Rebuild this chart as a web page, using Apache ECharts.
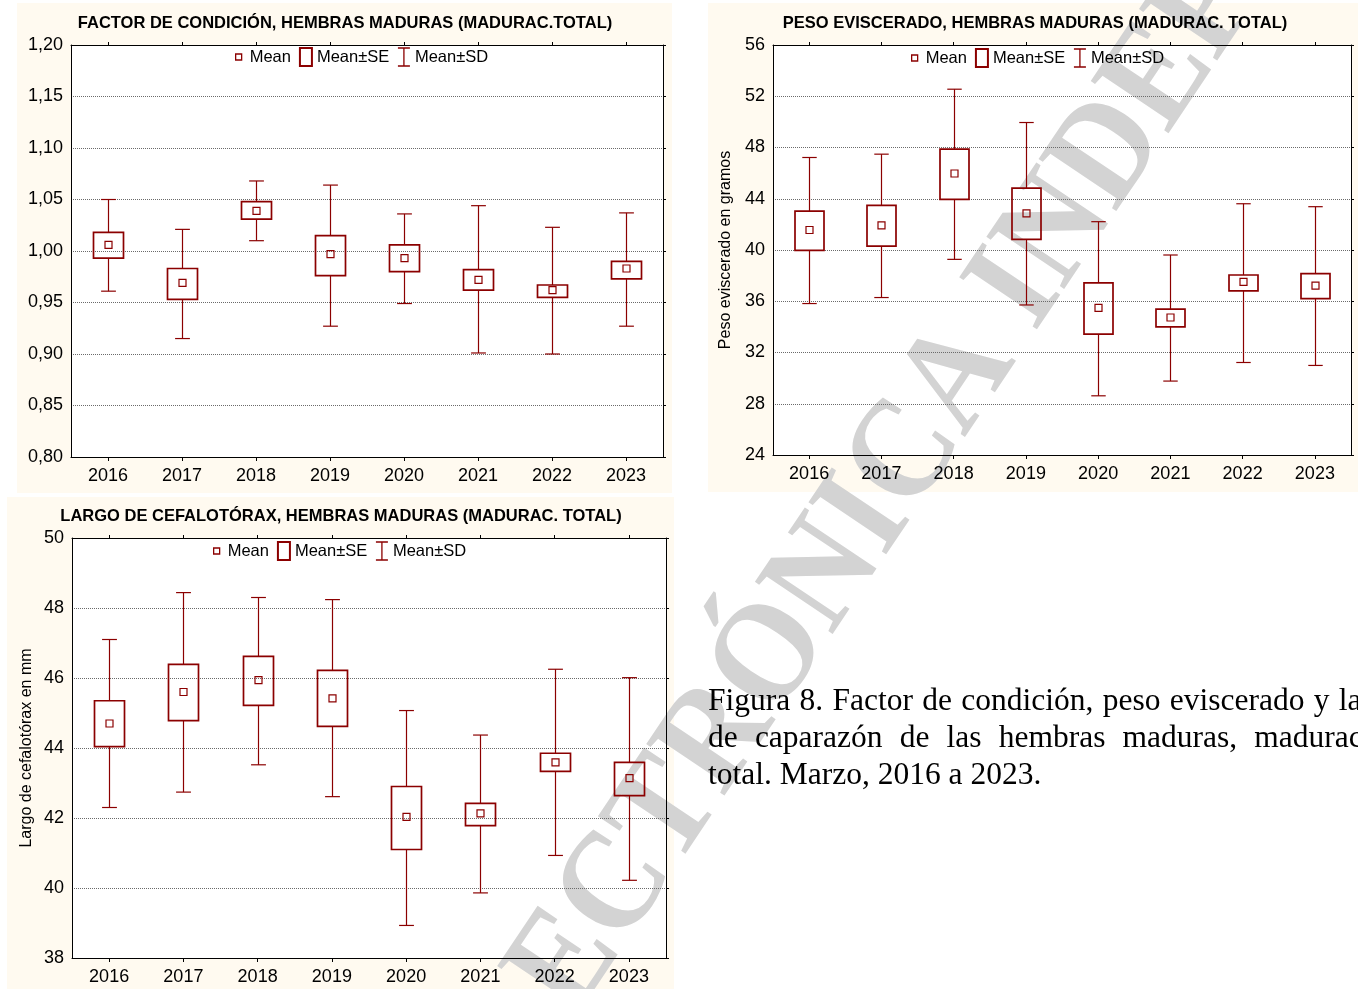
<!DOCTYPE html>
<html>
<head>
<meta charset="utf-8">
<script src="https://cdn.jsdelivr.net/npm/echarts@6/dist/echarts.min.js"></script>
<style>
html,body{margin:0;padding:0;width:1358px;height:989px;overflow:hidden;background:#fff;}
#chart{position:absolute;left:0;top:0;width:1358px;height:989px;}
#cap{position:absolute;left:708px;top:681px;width:650px;height:120px;overflow:hidden;}
#capInner{width:695px;font-family:"Liberation Serif","Times New Roman",serif;font-size:31.5px;line-height:37px;text-align:justify;color:#000;}
</style>
</head>
<body>
<div id="chart"></div>
<div id="cap"><div id="capInner"></div></div>
<script>
// ---------- DATA ----------
const years = ['2016', '2017', '2018', '2019', '2020', '2021', '2022', '2023'];

const titles = [
  'FACTOR DE CONDICIÓN, HEMBRAS MADURAS (MADURAC.TOTAL)',
  'PESO EVISCERADO, HEMBRAS MADURAS (MADURAC. TOTAL)',
  'LARGO DE CEFALOTÓRAX, HEMBRAS MADURAS (MADURAC. TOTAL)'
];
const yNames = ['', 'Peso eviscerado en gramos', 'Largo de cefalotórax en mm'];
const legendNames = ['Mean', 'Mean±SE', 'Mean±SD'];

// Factor de condición
const kMean   = [1.006, 0.969, 1.039, 0.997, 0.993, 0.972, 0.962, 0.983];
const kSeLow  = [0.993, 0.953, 1.031, 0.976, 0.980, 0.962, 0.955, 0.973];
const kSeHigh = [1.018, 0.983, 1.048, 1.015, 1.006, 0.982, 0.967, 0.990];
const kSdLow  = [0.961, 0.915, 1.010, 0.927, 0.949, 0.901, 0.900, 0.927];
const kSdHigh = [1.050, 1.021, 1.068, 1.064, 1.036, 1.044, 1.023, 1.037];

// Peso eviscerado (g)
const pMean   = [41.56, 41.92, 45.97, 42.86, 35.48, 34.73, 37.51, 37.22];
const pSeLow  = [39.97, 40.31, 43.95, 40.83, 33.43, 34.00, 36.81, 36.21];
const pSeHigh = [43.04, 43.48, 47.87, 44.83, 37.43, 35.38, 38.05, 38.16];
const pSdLow  = [35.82, 36.29, 39.27, 35.71, 28.62, 29.77, 31.22, 30.99];
const pSdHigh = [47.22, 47.48, 52.55, 49.95, 42.21, 39.61, 43.61, 43.38];

// Largo de cefalotórax (mm)
const lMean   = [44.70, 45.60, 45.94, 45.42, 42.03, 42.13, 43.59, 43.14];
const lSeLow  = [44.04, 44.78, 45.22, 44.62, 41.10, 41.78, 43.33, 42.64];
const lSeHigh = [45.35, 46.39, 46.62, 46.22, 42.90, 42.42, 43.85, 43.59];
const lSdLow  = [42.30, 42.74, 43.52, 42.61, 38.93, 39.86, 40.93, 40.22];
const lSdHigh = [47.10, 48.44, 48.30, 48.24, 45.07, 44.37, 46.25, 46.01];

// y-axis scales
const yMin = [0.80, 24, 38];
const yMax = [1.20, 56, 50];
const yStep = [0.05, 4, 2];

const captionText = 'Figura 8. Factor de condición, peso eviscerado y largo de caparazón de las hembras maduras, maduración total. Marzo, 2016 a 2023.';
const watermarkText = 'ELECTRÓNICA INDEPENDIENTE';

// ---------- STYLE / LAYOUT ----------
const C = '#8b0000';
const F = '"Liberation Sans", Arial, sans-serif';
const grids = [
  {left: 71, top: 45, width: 592, height: 412},
  {left: 773, top: 45, width: 578, height: 410},
  {left: 72, top: 538, width: 594, height: 420}
];
const titlePos = [[345, 15], [1035, 14.5], [341, 507.5]];
const legendPos = [[232, 47], [908, 48], [210, 541]];
const nameGaps = [0, 39, 37];

const sets = [
  [kMean, kSeLow, kSeHigh, kSdLow, kSdHigh],
  [pMean, pSeLow, pSeHigh, pSdLow, pSdHigh],
  [lMean, lSeLow, lSeHigh, lSdLow, lSdHigh]
];

document.getElementById('capInner').textContent = captionText;

function renderWhisker(params, api) {
  const i = api.value(0);
  const band = api.size([1, 0])[0];
  const cap = band * 0.2;
  const pLo = api.coord([i, api.value(1)]);
  const pSeLo = api.coord([i, api.value(2)]);
  const pSeHi = api.coord([i, api.value(3)]);
  const pHi = api.coord([i, api.value(4)]);
  const x = Math.round(pLo[0]) + 0.5;
  const st = {stroke: C, lineWidth: 1.2};
  return {type: 'group', children: [
    {type: 'line', shape: {x1: x, y1: pLo[1], x2: x, y2: pSeLo[1]}, style: st},
    {type: 'line', shape: {x1: x, y1: pSeHi[1], x2: x, y2: pHi[1]}, style: st},
    {type: 'line', shape: {x1: x - cap / 2, y1: pLo[1], x2: x + cap / 2, y2: pLo[1]}, style: st},
    {type: 'line', shape: {x1: x - cap / 2, y1: pHi[1], x2: x + cap / 2, y2: pHi[1]}, style: st}
  ]};
}
function renderBox(params, api) {
  const i = api.value(0);
  const band = api.size([1, 0])[0];
  const w = Math.round(band * 0.4);
  const lo = api.coord([i, api.value(1)]);
  const hi = api.coord([i, api.value(2)]);
  const x = Math.round(lo[0]) + 0.5;
  return {type: 'rect', shape: {x: x - w / 2, y: hi[1], width: w, height: lo[1] - hi[1]},
    style: {fill: 'none', stroke: C, lineWidth: 1.7}};
}
function renderMean(params, api) {
  const i = api.value(0);
  const p = api.coord([i, api.value(1)]);
  const s = 7;
  const x = Math.round(p[0]) + 0.5;
  return {type: 'rect', shape: {x: x - s / 2, y: p[1] - s / 2, width: s, height: s},
    style: {fill: 'none', stroke: C, lineWidth: 1.2}};
}

function fmt(k) {
  return function (v) {
    if (k === 0) return v.toFixed(2).replace('.', ',');
    return String(Math.round(v));
  };
}

const option = {
  animation: false,
  backgroundColor: '#ffffff',
  title: titles.map((t, k) => ({
    text: t, left: titlePos[k][0], top: titlePos[k][1], textAlign: 'center', padding: 0,
    textStyle: {fontSize: 16.5, fontWeight: 'bold', fontFamily: F, color: '#000'}
  })),
  legend: [0, 1, 2].map(k => ({
    left: legendPos[k][0], top: legendPos[k][1], padding: 0, orient: 'horizontal',
    itemWidth: 12, itemHeight: 18, itemGap: 8, selectedMode: false,
    textStyle: {fontSize: 16.5, fontFamily: F, color: '#000'},
    data: [
      {name: legendNames[0], icon: 'path://M0,0M12,18M3,6L9,6L9,12L3,12Z',
        itemStyle: {color: 'rgba(0,0,0,0)', borderColor: C, borderWidth: 1.3}},
      {name: legendNames[1], icon: 'path://M0,0L12,0L12,18L0,18Z',
        itemStyle: {color: 'rgba(0,0,0,0)', borderColor: C, borderWidth: 2}},
      {name: legendNames[2], icon: 'path://M0,0L12,0M6,0L6,18M0,18L12,18',
        itemStyle: {color: 'rgba(0,0,0,0)', borderColor: C, borderWidth: 1.3}}
    ]
  })),
  grid: grids.map(g => Object.assign({show: true, backgroundColor: '#ffffff', borderWidth: 0, z: 1}, g)),
  xAxis: [].concat(...[0, 1, 2].map(k => [
    {type: 'category', gridIndex: k, data: years, position: 'bottom', z: 3,
      axisLine: {show: true, lineStyle: {color: '#000', width: 1}},
      axisTick: {show: true, alignWithLabel: true, length: 4, lineStyle: {color: '#000'}},
      axisLabel: {fontSize: 18, fontFamily: F, color: '#000', margin: 10},
      splitLine: {show: false}},
    {type: 'category', gridIndex: k, data: years, position: 'top', z: 3,
      axisLine: {show: true, lineStyle: {color: '#000', width: 1}},
      axisTick: {show: true, alignWithLabel: true, length: 3, lineStyle: {color: '#000'}},
      axisLabel: {show: false}, splitLine: {show: false}}
  ])),
  yAxis: [].concat(...[0, 1, 2].map(k => [
    {type: 'value', gridIndex: k, position: 'left', min: yMin[k], max: yMax[k], interval: yStep[k], z: 3,
      name: yNames[k], nameLocation: 'middle', nameGap: nameGaps[k],
      nameTextStyle: {fontSize: 16, fontFamily: F, color: '#000'},
      axisLine: {show: true, lineStyle: {color: '#000', width: 1}},
      axisTick: {show: false},
      axisLabel: {fontSize: 18, fontFamily: F, color: '#000', margin: 8, formatter: fmt(k)},
      splitLine: {show: true, lineStyle: {color: '#6a6a6a', type: [1, 1], width: 1}}},
    {type: 'value', gridIndex: k, position: 'right', min: yMin[k], max: yMax[k], interval: yStep[k], z: 3,
      axisLine: {show: true, lineStyle: {color: '#000', width: 1}},
      axisTick: {show: true, length: 3, lineStyle: {color: '#000'}},
      axisLabel: {show: false}, splitLine: {show: false}}
  ])),
  series: [].concat(...[0, 1, 2].map(k => {
    const [m, seL, seH, sdL, sdH] = sets[k];
    return [
      {name: legendNames[2], type: 'custom', xAxisIndex: 2 * k, yAxisIndex: 2 * k, z: 4,
        itemStyle: {color: C}, renderItem: renderWhisker, encode: {x: 0, y: [1, 2, 3, 4]},
        data: years.map((y, i) => [i, sdL[i], seL[i], seH[i], sdH[i]])},
      {name: legendNames[1], type: 'custom', xAxisIndex: 2 * k, yAxisIndex: 2 * k, z: 4,
        itemStyle: {color: C}, renderItem: renderBox, encode: {x: 0, y: [1, 2]},
        data: years.map((y, i) => [i, seL[i], seH[i]])},
      {name: legendNames[0], type: 'custom', xAxisIndex: 2 * k, yAxisIndex: 2 * k, z: 4,
        itemStyle: {color: C}, renderItem: renderMean, encode: {x: 0, y: 1},
        data: years.map((y, i) => [i, m[i]])}
    ];
  })),
  graphic: [
    {type: 'rect', z: 0, shape: {x: 17, y: 3, width: 655, height: 490}, style: {fill: '#fffaf0'}},
    {type: 'rect', z: 0, shape: {x: 708, y: 3, width: 650, height: 489}, style: {fill: '#fffaf0'}},
    {type: 'rect', z: 0, shape: {x: 7, y: 497, width: 667, height: 492}, style: {fill: '#fffaf0'}},
    {type: 'text', z: 2, x: 1027, y: 278, rotation: 0.98, scaleY: 1.1,
      style: {text: watermarkText, fontSize: 130, fontWeight: 'bold',
        fontFamily: '"Liberation Serif", "Times New Roman", serif',
        fill: '#d3d3d3', align: 'center', verticalAlign: 'middle'}}
  ]
};

const chart = echarts.init(document.getElementById('chart'), null, {renderer: 'canvas'});
chart.setOption(option);
</script>
</body>
</html>
